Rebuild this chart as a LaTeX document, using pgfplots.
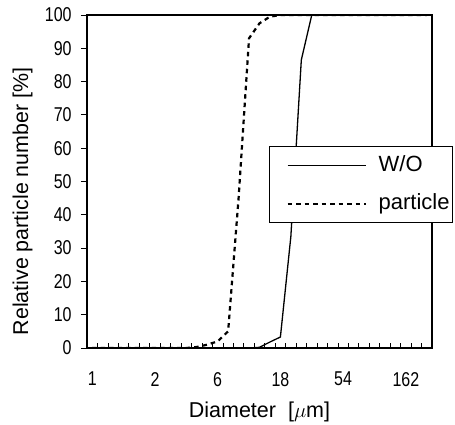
\documentclass[border=0pt]{standalone}
\usepackage{pgfplots}
\pgfplotsset{compat=1.18}
\usepackage{pgfplotstable}
\usepackage{fontspec}
\setmainfont{Liberation Sans}

% cumulative distribution, category index 0..32
\pgfplotstableread{
cat wo particle
0 0 0
1 0 0
2 0 0
3 0 0
4 0 0
5 0 0
6 0 0
7 0 0
8 0 0
9 0 0
10 0 0.3
11 0 1
12 0 2
13 0 5
14 0 45
15 0 93
16 0.2 97.5
17 1.8 99.5
18 3.3 100
19 33.5 100
20 86.5 100
21 100 100
22 100 100
23 100 100
24 100 100
25 100 100
26 100 100
27 100 100
28 100 100
29 100 100
30 100 100
31 100 100
32 100 100
}\dist

\begin{document}
\begin{tikzpicture}
\useasboundingbox (-87pt,-77pt) rectangle (368pt,348pt);
\begin{axis}[
    scale only axis,
    width=345pt, height=333pt,
    xmin=-0.5, xmax=32.5,
    ymin=0, ymax=100,
    axis line style={line width=1.2pt},
    tick align=inside,
    xtick pos=lower, ytick pos=left,
    xtick={0,6,...,30},
    xticklabels={1,2,6,18,54,162},
    major x tick style={draw=none},
    minor xtick={0.5,1.5,...,31.5},
    minor tick length=5pt,
    minor x tick style={line width=0.8pt, black},
    ytick={0,10,...,100},
    major tick length=6pt,
    y tick style={line width=0.8pt, black, xshift=-6pt},
    /pgf/number format/assume math mode=true,
    yticklabel style={font=\fontsize{20}{20}\selectfont, xscale=0.8, inner sep=0pt, xshift=-19pt},
    xticklabel style={font=\fontsize{20}{20}\selectfont, xscale=0.8, inner sep=0pt, yshift=-24pt},
    xlabel={Diameter\ \ [$\mu$m]},
    xlabel style={font=\fontsize{21.5}{21.5}\selectfont, at={(axis description cs:0.5,0)}, anchor=base, yshift=-70pt, inner sep=0pt},
    ylabel={Relative particle number [\%]},
    ylabel style={font=\fontsize{21.4}{21.4}\selectfont, at={(axis description cs:-0.171,0.44)}, anchor=base, inner sep=0pt},
    legend image code/.code={\path (-14pt,0pt); \draw[#1] (0pt,0pt) -- (78pt,0pt);},
    legend cell align=left,
    legend style={
        at={(axis description cs:1.061,0.3745)}, anchor=south east,
        draw=black, line width=1pt, fill=white,
        inner xsep=3pt, inner ysep=8.5pt,
        font=\fontsize{22}{22}\selectfont,
        row sep=17pt, column sep=12pt,
        nodes={inner sep=0pt, text height=16pt, text depth=5pt},
    },
]
\addplot[black, line width=1.3pt] table[x=cat, y=wo] {\dist};
\addlegendentry{W/O}
\addplot[black, line width=2.2pt, dash pattern=on 4.5pt off 4pt] table[x=cat, y=particle] {\dist};
\addlegendentry{particle}
\end{axis}
\end{tikzpicture}
\end{document}
